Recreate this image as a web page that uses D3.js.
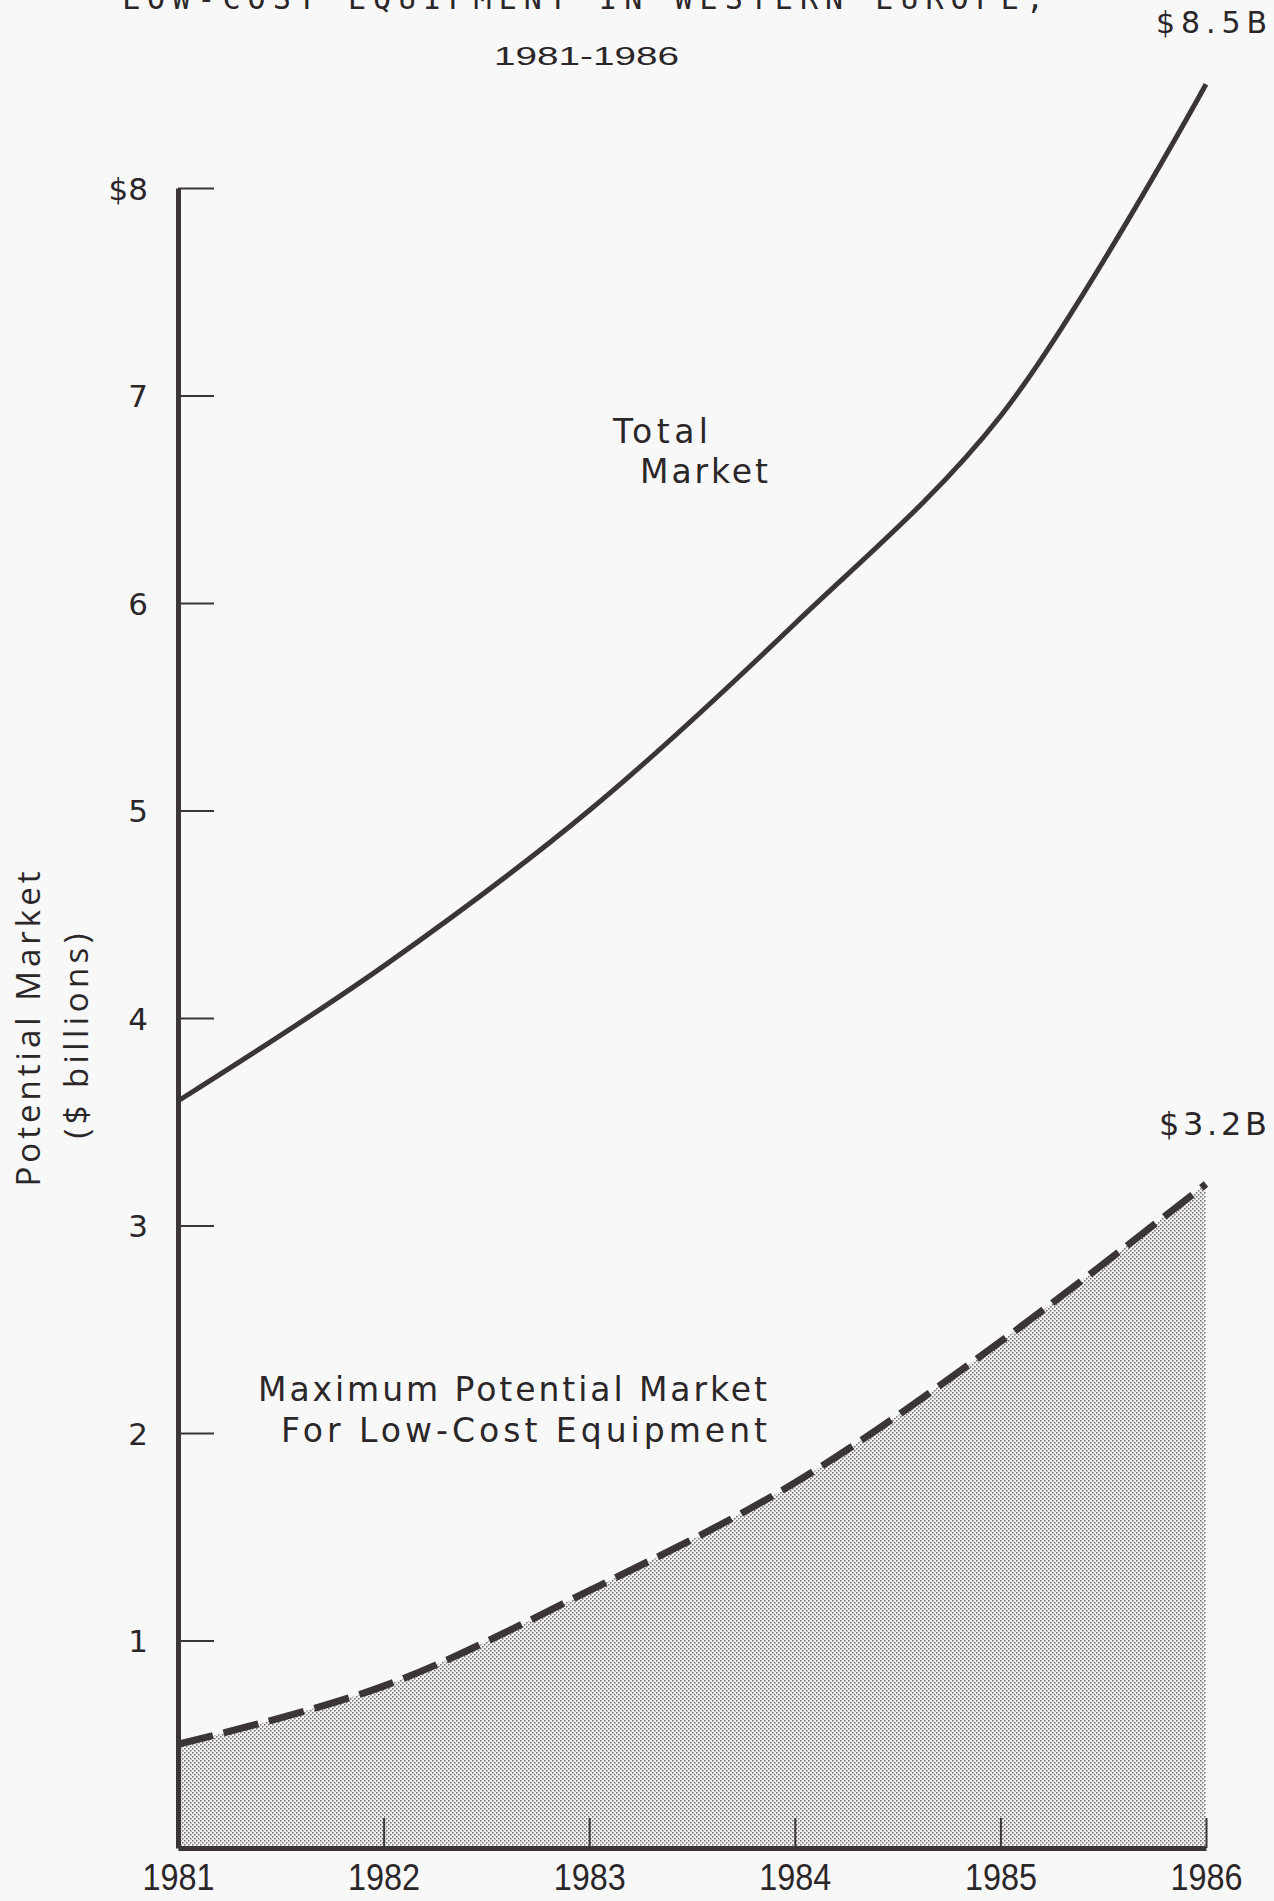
<!DOCTYPE html>
<html>
<head>
<meta charset="utf-8">
<script src="https://cdn.jsdelivr.net/npm/d3@7"></script>
<style>
  html, body { margin: 0; padding: 0; background: #f9f8f9; }
  svg { display: block; }
  text { fill: #2b2729; }
</style>
</head>
<body>
<svg id="chart" width="1274" height="1901"></svg>
<script>
// Potential market, $ billions
const years = [1981, 1982, 1983, 1984, 1985, 1986];
const totalMarket = [3.6, 4.25, 5.0, 5.9, 6.9, 8.5];
const lowCostMarket = [0.5, 0.78, 1.24, 1.76, 2.44, 3.2];
const yTickValues = [1, 2, 3, 4, 5, 6, 7, 8];
const yTickLabels = ["1", "2", "3", "4", "5", "6", "7", "$8"];
const xTickLabels = ["1981", "1982", "1983", "1984", "1985", "1986"];
const titleLine = "LOW-COST EQUIPMENT IN WESTERN EUROPE,";
const subtitle = "1981-1986";

const ink = "#3b3438";
const svg = d3.select("#chart");

const x = d3.scaleLinear().domain([1981, 1986]).range([178, 1206]);
const y = d3.scaleLinear().domain([0, 8]).range([1848, 188]);

// halftone stipple for the low-cost area
const defs = svg.append("defs");
const pat = defs.append("pattern")
  .attr("id", "stipple").attr("patternUnits", "userSpaceOnUse")
  .attr("width", 4).attr("height", 4);
pat.append("rect").attr("width", 4).attr("height", 4).attr("fill", "#f4f3f4");
pat.append("rect").attr("x", 0).attr("y", 0).attr("width", 1.5).attr("height", 1.5).attr("fill", "#6e696c");
pat.append("rect").attr("x", 2).attr("y", 2).attr("width", 1.5).attr("height", 1.5).attr("fill", "#6e696c");

const lowPts = years.map((yr, i) => [yr, lowCostMarket[i]]);
const totPts = years.map((yr, i) => [yr, totalMarket[i]]);
const curve = d3.curveCatmullRom.alpha(0.5);

// shaded area under the low-cost curve
svg.append("path")
  .datum(lowPts)
  .attr("fill", "url(#stipple)")
  .attr("d", d3.area().x(d => x(d[0])).y0(y(0)).y1(d => y(d[1])).curve(curve));

// bottom axis with ticks pointing up, labels below
const xAxis = svg.append("g")
  .attr("transform", `translate(0,${y(0)})`)
  .call(d3.axisTop(x).tickValues(years).tickSize(30).tickSizeOuter(0)
    .tickFormat((d, i) => xTickLabels[i]));
xAxis.select(".domain").attr("stroke", ink).attr("stroke-width", 5);
xAxis.selectAll(".tick line").attr("stroke", ink).attr("stroke-width", 2);
xAxis.selectAll(".tick text")
  .attr("y", 42).attr("dy", 0)
  .attr("font-family", "Liberation Sans, Arial, sans-serif")
  .attr("font-size", 37)
  .attr("textLength", 72).attr("lengthAdjust", "spacingAndGlyphs")
  .style("fill", "#2b2729");

// left axis with ticks pointing right, labels on the left
const yAxis = svg.append("g")
  .attr("transform", `translate(${x(1981)},0)`)
  .call(d3.axisRight(y).tickValues(yTickValues).tickSize(36).tickSizeOuter(0)
    .tickFormat((d, i) => yTickLabels[i]));
yAxis.select(".domain").attr("stroke", ink).attr("stroke-width", 5);
yAxis.selectAll(".tick line").attr("stroke", ink).attr("stroke-width", 2);
yAxis.selectAll(".tick text")
  .attr("x", -30).attr("dy", "0.36em")
  .attr("text-anchor", "end")
  .attr("font-family", "DejaVu Sans, sans-serif")
  .attr("font-size", 31)
  .style("fill", "#2b2729");

// total market curve
svg.append("path")
  .datum(totPts)
  .attr("fill", "none").attr("stroke", ink).attr("stroke-width", 5)
  .attr("stroke-linejoin", "round")
  .attr("d", d3.line().x(d => x(d[0])).y(d => y(d[1])).curve(curve));

// low-cost equipment curve (dashed)
svg.append("path")
  .datum(lowPts)
  .attr("fill", "none").attr("stroke", ink).attr("stroke-width", 7)
  .attr("stroke-dasharray", "36 11")
  .attr("d", d3.line().x(d => x(d[0])).y(d => y(d[1])).curve(curve));

// text helper
function label(txt, px, py, size, len, opts = {}) {
  const t = svg.append("text")
    .attr("x", px).attr("y", py)
    .attr("font-family", opts.family || "DejaVu Sans, sans-serif")
    .attr("font-size", size)
    .attr("text-anchor", opts.anchor || "start")
    .text(txt);
  if (len) t.attr("textLength", len).attr("lengthAdjust", opts.adjust || "spacing");
  return t;
}

// titles
label(titleLine, 122, 9, 30, 922, { family: "DejaVu Sans Mono, monospace" });
label(subtitle, 494, 65, 25, 185, { family: "Liberation Sans, Arial, sans-serif", adjust: "spacingAndGlyphs" });

// end-value callouts
label("$8.5B", 1156, 33, 30, 111);
label("$3.2B", 1159, 1135, 32, 108);

// series labels
label("Total", 613, 443, 33, 95);
label("Market", 640, 483, 33, 128);
label("Maximum Potential Market", 258, 1401, 33, 509);
label("For Low-Cost Equipment", 281, 1442, 33, 486);

// y-axis title
svg.append("text")
  .attr("transform", "translate(40,1029) rotate(-90)")
  .attr("text-anchor", "middle")
  .attr("font-family", "Open Sans, Liberation Sans, sans-serif")
  .attr("font-size", 33)
  .attr("textLength", 315).attr("lengthAdjust", "spacing")
  .text("Potential Market");
svg.append("text")
  .attr("transform", "translate(88,1036) rotate(-90)")
  .attr("text-anchor", "middle")
  .attr("font-family", "Open Sans, Liberation Sans, sans-serif")
  .attr("font-size", 33)
  .attr("textLength", 205).attr("lengthAdjust", "spacing")
  .text("($ billions)");
</script>
</body>
</html>
